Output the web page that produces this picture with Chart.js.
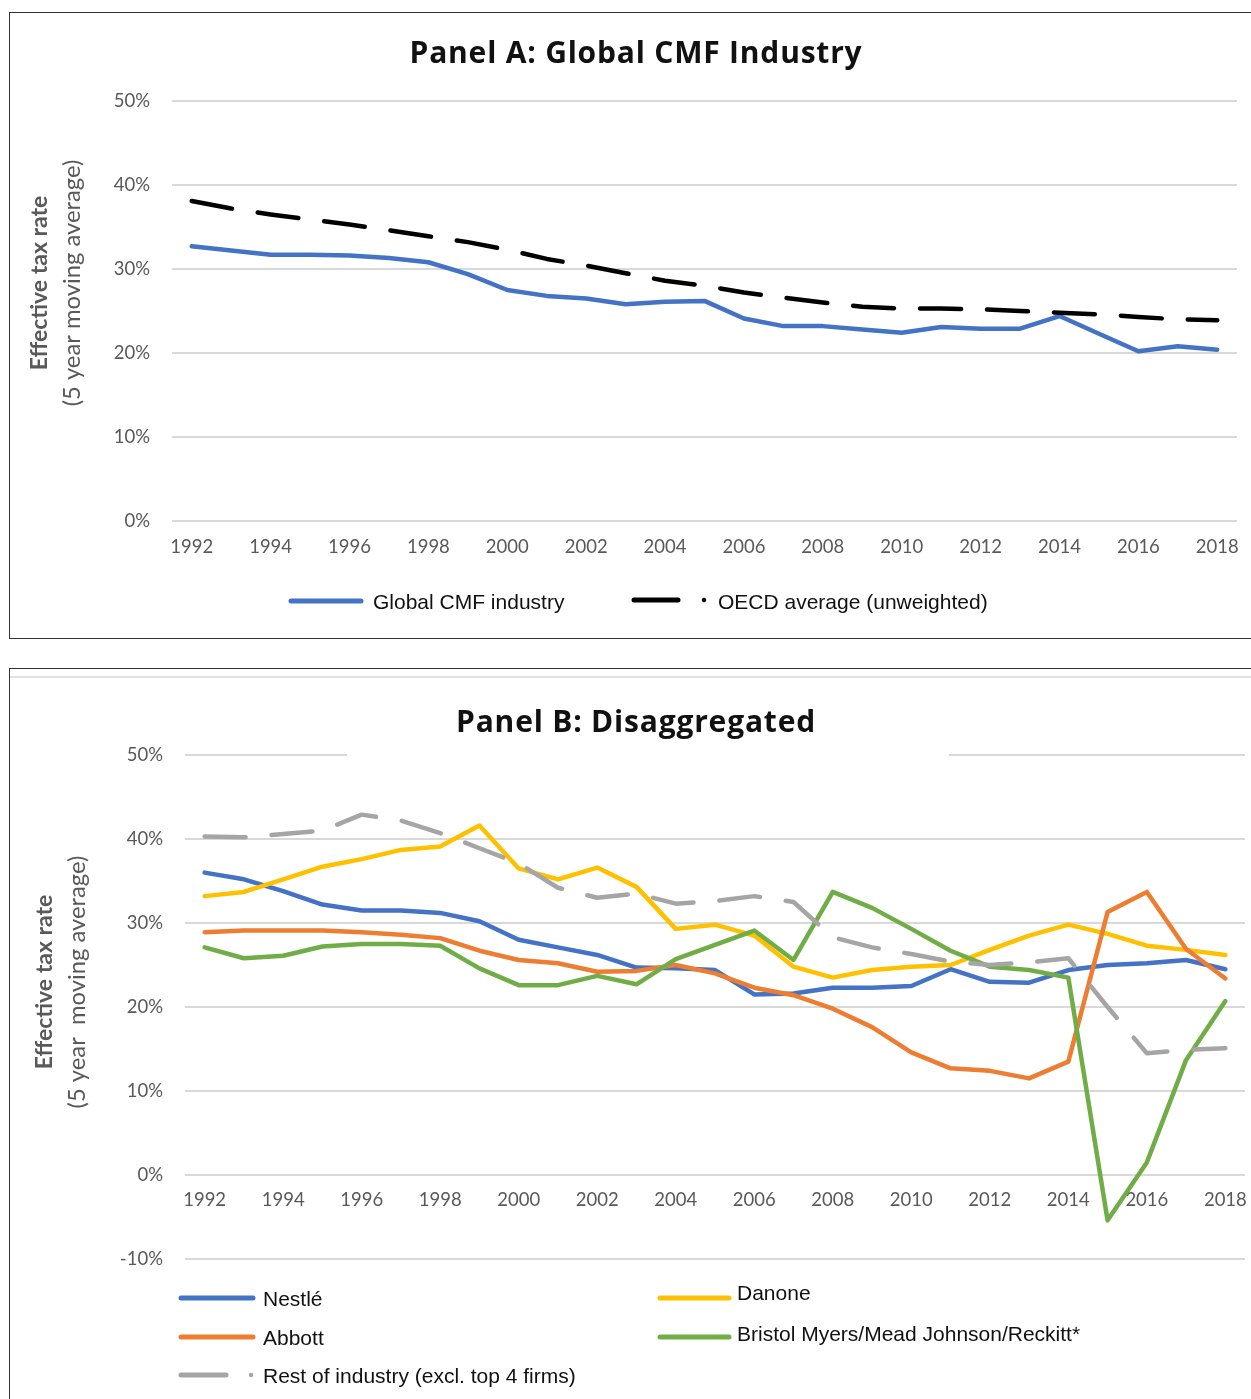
<!DOCTYPE html>
<html>
<head>
<meta charset="utf-8">
<script src="https://cdn.jsdelivr.net/npm/chart.js@4.4.1/dist/chart.umd.min.js"></script>
<style>
  html, body { margin: 0; padding: 0; background: #fff; overflow: hidden; }
  .panel { position: absolute; left: 9px; width: 1260px; border: 1px solid #333; box-sizing: border-box; background: #fff; }
  #boxA { top: 12px; height: 627px; }
  #boxB { top: 668px; height: 760px; }
  .panel .wrap { position: relative; width: 100%; height: 100%; }
</style>
</head>
<body>
<div class="panel" id="boxA"><div class="wrap"><canvas id="chartA"></canvas></div></div>
<div class="panel" id="boxB"><div class="wrap"><canvas id="chartB"></canvas></div></div>
<script>
// --- datos (tasa efectiva, media móvil de 5 años, en %) ---
const years = ['1992', '1993', '1994', '1995', '1996', '1997', '1998', '1999', '2000', '2001',
  '2002', '2003', '2004', '2005', '2006', '2007', '2008', '2009', '2010', '2011',
  '2012', '2013', '2014', '2015', '2016', '2017', '2018'];

// Panel A
const namesA = ['Global CMF industry', 'OECD average (unweighted)'];
const globalCMF = [32.7, 32.2, 31.7, 31.7, 31.6, 31.3, 30.8, 29.4, 27.5, 26.8, 26.5, 25.8, 26.1, 26.2,
  24.1, 23.2, 23.2, 22.8, 22.4, 23.1, 22.9, 22.9, 24.4, 22.3, 20.2, 20.8, 20.4];
const oecdAvg = [38.1, 37.2, 36.5, 35.9, 35.3, 34.6, 33.9, 33.2, 32.3, 31.2, 30.4, 29.5, 28.6, 28.0,
  27.2, 26.6, 26.0, 25.5, 25.3, 25.3, 25.2, 25.0, 24.8, 24.6, 24.3, 24.0, 23.9];
const ticksA = [0, 10, 20, 30, 40, 50];

// Panel B
const namesB = ['Nestlé', 'Danone', 'Abbott', 'Bristol Myers/Mead Johnson/Reckitt*', 'Rest of industry (excl. top 4 firms)'];
const nestle = [36.0, 35.2, 33.8, 32.2, 31.5, 31.5, 31.2, 30.2, 28.0, 27.1, 26.2, 24.7, 24.6, 24.4,
  21.5, 21.6, 22.3, 22.3, 22.5, 24.5, 23.0, 22.9, 24.4, 25.0, 25.2, 25.6, 24.5];
const danone = [33.2, 33.7, 35.2, 36.7, 37.6, 38.7, 39.1, 41.6, 36.5, 35.2, 36.6, 34.3, 29.3, 29.8,
  28.5, 24.8, 23.5, 24.4, 24.8, 25.0, 26.8, 28.5, 29.8, 28.7, 27.3, 26.8, 26.2];
const abbott = [28.9, 29.1, 29.1, 29.1, 28.9, 28.6, 28.2, 26.7, 25.6, 25.2, 24.2, 24.3, 25.0, 24.0,
  22.3, 21.4, 19.8, 17.6, 14.6, 12.7, 12.4, 11.5, 13.5, 31.3, 33.7, 26.9, 23.4];
const bristolMJR = [27.1, 25.8, 26.1, 27.2, 27.5, 27.5, 27.3, 24.6, 22.6, 22.6, 23.7, 22.7, 25.7, 27.4,
  29.1, 25.6, 33.7, 31.8, 29.3, 26.7, 24.8, 24.4, 23.5, -5.4, 1.5, 13.7, 20.7];
const restOfIndustry = [40.3, 40.2, 40.6, 41.0, 42.9, 42.2, 40.7, 38.9, 37.1, 34.2, 33.0, 33.5, 32.3, 32.6,
  33.2, 32.5, 28.3, 27.1, 26.3, 25.4, 25.0, 25.3, 25.8, 20.0, 14.5, 14.9, 15.1];
const ticksB = [-10, 0, 10, 20, 30, 40, 50];

const COLORS = { blue: '#4472c4', orange: '#ed7d31', gray: '#a5a5a5', yellow: '#ffc000', green: '#70ad47', black: '#000000' };
const TICK_FONT = { family: 'Lato', size: 18.5 };
const TICK_COLOR = '#595959';
const GRID_COLOR = '#d9d9d9';
const DASH = [41, 26];

// Plugin propio: título, título del eje Y en dos líneas y leyenda dibujada a mano
const decorPlugin = {
  id: 'decor',
  beforeDatasetsDraw(chart, args, opts) {
    if (!opts.gap) return;
    const ctx = chart.ctx;
    ctx.save();
    ctx.fillStyle = '#fff';
    ctx.fillRect(opts.gap.x1, opts.gap.y - 3, opts.gap.x2 - opts.gap.x1, 6);
    ctx.restore();
  },
  afterDraw(chart, args, opts) {
    const ctx = chart.ctx;
    ctx.save();
    if (opts.topLine) {
      ctx.strokeStyle = GRID_COLOR;
      ctx.lineWidth = 1.5;
      ctx.beginPath();
      ctx.moveTo(0, opts.topLine);
      ctx.lineTo(chart.width, opts.topLine);
      ctx.stroke();
    }
    // título
    ctx.save();
    ctx.fillStyle = '#111';
    ctx.font = 'bold 30px "Open Sans"';
    ctx.letterSpacing = '0.8px';
    ctx.textAlign = 'center';
    ctx.textBaseline = 'alphabetic';
    ctx.fillText(opts.title.text, opts.title.x, opts.title.y);
    ctx.restore();

    // título del eje Y (girado)
    ctx.fillStyle = '#595959';
    ctx.textAlign = 'center';
    ctx.textBaseline = 'middle';
    opts.yTitle.forEach(t => {
      ctx.save();
      ctx.translate(t.x, t.y);
      ctx.rotate(-Math.PI / 2);
      ctx.font = t.font;
      ctx.fillText(t.text, 0, 0);
      ctx.restore();
    });

    // leyenda
    ctx.textAlign = 'left';
    ctx.font = '21px "Liberation Sans"';
    opts.legend.forEach(item => {
      ctx.strokeStyle = item.color;
      ctx.fillStyle = item.color;
      ctx.lineWidth = 5;
      ctx.lineCap = 'round';
      ctx.beginPath();
      ctx.moveTo(item.x1, item.y);
      ctx.lineTo(item.x2, item.y);
      ctx.stroke();
      if (item.dot) {
        ctx.beginPath();
        ctx.arc(item.dot, item.y, 2.2, 0, Math.PI * 2);
        ctx.fill();
      }
      ctx.fillStyle = '#111';
      ctx.fillText(item.label, item.tx, item.ty);
    });
    ctx.restore();
  }
};

function lineDataset(label, data, color, order, dashed) {
  return {
    label: label,
    data: data,
    borderColor: color,
    backgroundColor: color,
    borderWidth: 4.5,
    borderDash: dashed ? DASH : [],
    borderCapStyle: 'round',
    borderJoinStyle: 'round',
    pointRadius: 0,
    pointHoverRadius: 0,
    tension: 0,
    fill: false,
    order: order
  };
}

function baseScales(yTicks, yWidth, yPad, xPad, xPosition, xHeight) {
  return {
    x: {
      type: 'category',
      offset: true,
      position: xPosition,
      grid: { display: false, drawTicks: false },
      border: { display: false },
      ticks: {
        autoSkip: false, maxRotation: 0, minRotation: 0,
        color: TICK_COLOR, font: TICK_FONT, padding: xPad,
        callback: function (v, i) { return i % 2 === 0 ? this.getLabelForValue(v) : ''; }
      },
      afterFit: (scale) => { scale.height = xHeight; }
    },
    y: {
      min: yTicks[0],
      max: yTicks[yTicks.length - 1],
      afterBuildTicks: (scale) => { scale.ticks = yTicks.map(v => ({ value: v })); },
      grid: { color: GRID_COLOR, lineWidth: 2, drawTicks: false },
      border: { display: false },
      ticks: { color: TICK_COLOR, font: TICK_FONT, padding: yPad, callback: v => v + '%' },
      afterFit: (scale) => { scale.width = yWidth; }
    }
  };
}

// --- Panel A ---
new Chart(document.getElementById('chartA'), {
  type: 'line',
  data: {
    labels: years,
    datasets: [
      lineDataset(namesA[0], globalCMF, COLORS.blue, 1, false),
      lineDataset(namesA[1], oecdAvg, COLORS.black, 0, true)
    ]
  },
  options: {
    responsive: true,
    maintainAspectRatio: false,
    animation: false,
    events: [],
    layout: { padding: { left: 0, top: 88, right: 31, bottom: 77 } },
    scales: baseScales(ticksA, 162, 22, 15, 'bottom', 40),
    plugins: {
      legend: { display: false },
      tooltip: { enabled: false },
      decor: {
        title: { text: 'Panel A: Global CMF Industry', x: 626, y: 50 },
        yTitle: [
          { text: 'Effective tax rate', font: 'bold 23px Lato', x: 30, y: 270 },
          { text: '(5 year moving average)', font: '23.8px Lato', x: 62, y: 270 }
        ],
        legend: [
          { label: namesA[0], color: COLORS.blue, x1: 281, x2: 351, y: 588, tx: 363, ty: 590 },
          { label: namesA[1], color: COLORS.black, x1: 624, x2: 668, dot: 694, y: 587, tx: 708, ty: 590 }
        ]
      }
    }
  },
  plugins: [decorPlugin]
});

// --- Panel B ---
new Chart(document.getElementById('chartB'), {
  type: 'line',
  data: {
    labels: years,
    datasets: [
      lineDataset(namesB[0], nestle, COLORS.blue, 4, false),
      lineDataset(namesB[1], danone, COLORS.yellow, 3, false),
      lineDataset(namesB[2], abbott, COLORS.orange, 2, false),
      lineDataset(namesB[3], bristolMJR, COLORS.green, 1, false),
      lineDataset(namesB[4], restOfIndustry, COLORS.gray, 0, true)
    ]
  },
  options: {
    responsive: true,
    maintainAspectRatio: false,
    animation: false,
    events: [],
    layout: { padding: { left: 0, top: 86, right: 23, bottom: 168 } },
    scales: baseScales(ticksB, 175, 22, 14, { y: 0 }, 0),
    plugins: {
      legend: { display: false },
      tooltip: { enabled: false },
      decor: {
        topLine: 8,
        gap: { x1: 337, x2: 939, y: 86 },
        title: { text: 'Panel B: Disaggregated', x: 626, y: 63 },
        yTitle: [
          { text: 'Effective tax rate', font: 'bold 23px Lato', x: 35, y: 313 },
          { text: '(5 year  moving average)', font: '23.8px Lato', x: 67, y: 313 }
        ],
        legend: [
          { label: namesB[0], color: COLORS.blue, x1: 171, x2: 243, y: 629, tx: 253, ty: 631 },
          { label: namesB[1], color: COLORS.yellow, x1: 650, x2: 719, y: 629, tx: 727, ty: 625 },
          { label: namesB[2], color: COLORS.orange, x1: 171, x2: 243, y: 668, tx: 253, ty: 670 },
          { label: namesB[3], color: COLORS.green, x1: 650, x2: 719, y: 668, tx: 727, ty: 666 },
          { label: namesB[4], color: COLORS.gray, x1: 171, x2: 216, dot: 241, y: 706, tx: 253, ty: 708 }
        ]
      }
    }
  },
  plugins: [decorPlugin]
});
</script>
</body>
</html>
